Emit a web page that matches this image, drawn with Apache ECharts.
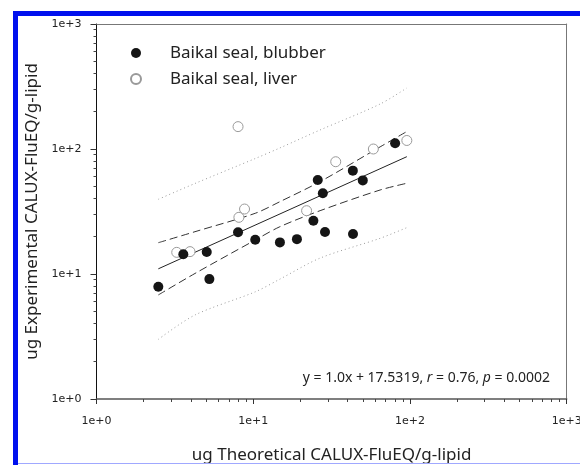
<!DOCTYPE html>
<html>
<head>
<meta charset="utf-8">
<script src="https://cdn.jsdelivr.net/npm/echarts@6/dist/echarts.min.js"></script>
<style>
  html, body { margin: 0; padding: 0; background: #fff; }
  #wrap { position: relative; width: 580px; height: 465px; overflow: hidden; background: #fff; }
  #chart { position: absolute; left: 0; top: 0; width: 580px; height: 465px; }
  .edge { position: absolute; background: #0010ee; }
</style>
</head>
<body>
<div id="wrap">
  <div id="chart"></div>
  <div class="edge" style="left:13px;top:11px;width:567px;height:5px;"></div>
  <div class="edge" style="left:13px;top:11px;width:5px;height:454px;"></div>
  <div class="edge" style="left:18px;top:463px;width:562px;height:1px;background:#a0a8ff;"></div>
</div>
<script>
// Baikal seal, blubber (filled dots)
const blubberX = [2.48, 3.58, 5.05, 5.25, 8.0, 10.3, 14.8, 19.0, 24.2, 28.7, 43.3, 27.8, 25.8, 43.2, 50.0, 80.4]
const blubberY = [7.9, 14.4, 15.0, 9.1, 21.6, 18.8, 17.9, 19.0, 26.7, 21.7, 20.9, 44.2, 56.5, 67.1, 56.1, 111]

// Baikal seal, liver (open dots)
const liverX = [8.0, 8.8, 8.1, 3.25, 3.95, 21.9, 33.6, 58.4, 95.5]
const liverY = [151, 33.1, 28.4, 14.9, 15.1, 32.1, 79.1, 100, 117]

// regression line + confidence / prediction bands
const fitX = [2.48, 95.5]
const fitY = [11.0, 86.8]
const bandX = [2.48, 4.25, 10.3, 14.8, 26.7, 64.5, 95.5]
const confUpper = [17.8, 21.8, 30.6, 37.9, 54.8, 104, 138]
const confLower = [6.8, 10.1, 18.7, 23.9, 32.1, 47.0, 53.2]
const predUpper = [39.6, 53.0, 83.9, 102, 142, 229, 308]
const predLower = [3.0, 4.7, 7.2, 9.1, 13.4, 19.3, 23.5]

const zip = (xs, ys) => xs.map((x, i) => [x, ys[i]])
const expLabel = (v) => '1e+' + Math.round(Math.log10(v))

const labelFont = 'DejaVu Sans'
const textFont = 'Noto Sans'

// frame lines on top / right
const frameAxis = (position) => ({
  type: 'log',
  min: 1,
  max: 1000,
  position: position,
  splitLine: { show: false },
  axisTick: { show: false },
  minorTick: { show: false },
  axisLabel: { show: false },
  axisLine: { show: true, lineStyle: { color: '#777', width: 1 } }
})

const bandLine = (name, xs, ys, style) => ({
  name: name,
  type: 'line',
  data: zip(xs, ys),
  symbol: 'none',
  smooth: 0.3,
  silent: true,
  z: 2,
  lineStyle: style
})

const chart = echarts.init(document.getElementById('chart'))

chart.setOption({
  animation: false,
  grid: {
    left: 96.5,
    right: 13.3,
    top: 24,
    bottom: 66,
    outerBoundsMode: 'none'
  },
  legend: {
    orient: 'vertical',
    left: 125,
    top: 38,
    itemWidth: 50,
    itemHeight: 10,
    itemGap: 6,
    data: ['Baikal seal, blubber', 'Baikal seal, liver'],
    textStyle: {
      fontFamily: textFont,
      fontSize: 17,
      lineHeight: 20,
      color: '#222',
      padding: [0, 0, 0, 4]
    }
  },
  title: {
    right: 25,
    top: 366,
    text: '{n|y = 1.0x + 17.5319, }{i|r}{n| = 0.76, }{i|p}{n| = 0.0002}',
    textStyle: {
      fontWeight: 'normal',
      rich: {
        n: { fontFamily: textFont, fontSize: 14, color: '#222', fontWeight: 'normal' },
        i: { fontFamily: textFont, fontSize: 14, color: '#222', fontWeight: 'normal', fontStyle: 'italic' }
      }
    }
  },
  xAxis: [
    {
      type: 'log',
      min: 1,
      max: 1000,
      position: 'bottom',
      name: 'ug Theoretical CALUX-FluEQ/g-lipid',
      nameLocation: 'middle',
      nameGap: 48,
      nameTextStyle: { fontFamily: textFont, fontSize: 17, color: '#222' },
      splitLine: { show: false },
      axisLine: { show: true, lineStyle: { color: '#555', width: 1.5 } },
      axisTick: { show: true, length: 5, lineStyle: { color: '#333', width: 1 } },
      minorTick: { show: true, splitNumber: 9, length: 3, lineStyle: { color: '#444', width: 1 } },
      axisLabel: {
        formatter: expLabel,
        fontFamily: labelFont,
        fontSize: 11,
        color: '#222',
        margin: 17
      }
    },
    frameAxis('top')
  ],
  yAxis: [
    {
      type: 'log',
      min: 1,
      max: 1000,
      position: 'left',
      name: 'ug Experimental CALUX-FluEQ/g-lipid',
      nameLocation: 'middle',
      nameGap: 56,
      nameTextStyle: { fontFamily: textFont, fontSize: 17, color: '#222' },
      splitLine: { show: false },
      axisLine: { show: true, lineStyle: { color: '#111', width: 1 } },
      axisTick: { show: true, length: 6, lineStyle: { color: '#333', width: 1 } },
      minorTick: { show: true, splitNumber: 9, length: 3, lineStyle: { color: '#444', width: 1 } },
      axisLabel: {
        formatter: expLabel,
        fontFamily: labelFont,
        fontSize: 11,
        color: '#222',
        margin: 15
      }
    },
    frameAxis('right')
  ],
  series: [
    bandLine('pred upper', bandX, predUpper, { color: '#999', width: 1, type: [1, 3] }),
    bandLine('pred lower', bandX, predLower, { color: '#999', width: 1, type: [1, 3] }),
    bandLine('conf upper', bandX, confUpper, { color: '#333', width: 1, type: [8, 4] }),
    bandLine('conf lower', bandX, confLower, { color: '#333', width: 1, type: [8, 4] }),
    {
      name: 'fit',
      type: 'line',
      data: zip(fitX, fitY),
      symbol: 'none',
      silent: true,
      z: 2,
      lineStyle: { color: '#222', width: 1 }
    },
    {
      name: 'Baikal seal, liver',
      type: 'scatter',
      data: zip(liverX, liverY),
      symbol: 'circle',
      symbolSize: 10,
      z: 3,
      itemStyle: { color: '#fff', borderColor: '#999', borderWidth: 1, opacity: 1 }
    },
    {
      name: 'Baikal seal, blubber',
      type: 'scatter',
      data: zip(blubberX, blubberY),
      symbol: 'circle',
      symbolSize: 10,
      z: 4,
      itemStyle: { color: '#151515', opacity: 1 }
    }
  ]
})
</script>
</body>
</html>
